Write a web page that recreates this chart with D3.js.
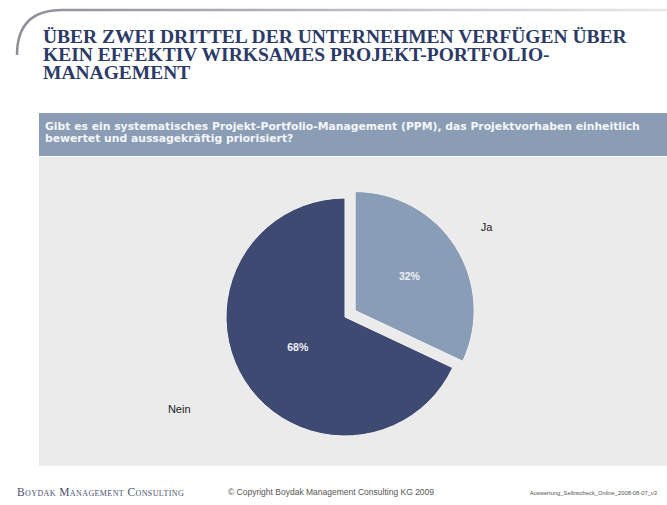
<!DOCTYPE html>
<html><head><meta charset="utf-8">
<script src="https://cdn.jsdelivr.net/npm/d3@7"></script>
<style>html,body{margin:0;padding:0;background:#fff;}svg{display:block;}</style>
</head><body>
<svg id="c" width="667" height="505"></svg>
<script>
const titleLines = ["ÜBER ZWEI DRITTEL DER UNTERNEHMEN VERFÜGEN ÜBER","KEIN EFFEKTIV WIRKSAMES PROJEKT-PORTFOLIO-","MANAGEMENT"];
const questionLines = ["Gibt es ein systematisches Projekt-Portfolio-Management (PPM), das Projektvorhaben einheitlich","bewertet und aussagekräftig priorisiert?"];
const categories = ["Ja","Nein"];
const values = [32, 68];
const colors = ["#8a9db6","#3e4a72"];
const footer = ["Boydak Management Consulting","© Copyright Boydak Management Consulting KG 2009","Auswertung_Selbstcheck_Online_2008-08-07_v3"];

const svg = d3.select("#c");
const defs = svg.append("defs");
const gH = defs.append("linearGradient").attr("id","fh").attr("x1",0).attr("x2",1).attr("y1",0).attr("y2",0);
gH.append("stop").attr("offset","0").attr("stop-color","#8d8f99");
gH.append("stop").attr("offset","1").attr("stop-color","#e8e8ec");
const gV = defs.append("linearGradient").attr("id","fv").attr("x1",0).attr("x2",0).attr("y1",0).attr("y2",1);
gV.append("stop").attr("offset","0").attr("stop-color","#8d8f99");
gV.append("stop").attr("offset","1").attr("stop-color","#f2f2f4");

// frame
svg.append("path").attr("d","M667,10 L62,10 Q17,10 17,55")
  .attr("fill","none").attr("stroke","url(#fh)").attr("stroke-width",2.5);
svg.append("path").attr("d","M17,55 L17,470")
  .attr("fill","none").attr("stroke","url(#fv)").attr("stroke-width",2.5);

// title
svg.append("g").selectAll("text").data(titleLines).join("text")
  .attr("x",43).attr("y",(d,i)=>43+i*18)
  .attr("font-family","Liberation Serif, Times New Roman, serif")
  .attr("font-weight","bold").attr("font-size",19.5)
  .attr("fill","#2c3a66").text(d=>d);

// panel
svg.append("rect").attr("x",39).attr("y",157).attr("width",628).attr("height",309).attr("fill","#ebebeb");
svg.append("rect").attr("x",39).attr("y",113).attr("width",628).attr("height",43).attr("fill","#8a9db5");
svg.append("g").selectAll("text").data(questionLines).join("text")
  .attr("x",45).attr("y",(d,i)=>130+i*12)
  .attr("font-family","DejaVu Sans, Verdana, sans-serif")
  .attr("font-weight","bold").attr("font-size",10.8)
  .attr("fill","#f4f6fa").text(d=>d);

// pie
const cx = 345, cy = 317, r = 119, explode = 12;
const labelPos = {Ja:{inner:0.54, outer:1.41, dx:0, dy:0}, Nein:{inner:0.47, outer:1.6, dx:-5, dy:-10}};
const pie = d3.pie().sort(null).value(d=>d.v);
const arcs = pie(categories.map((c,i)=>({c, v:values[i], col:colors[i]})));
const arc = d3.arc().innerRadius(0).outerRadius(r);
const g = svg.append("g").attr("transform",`translate(${cx},${cy})`);
const off = d => {
  if (d.data.c !== "Ja") return [0,0];
  const a = (d.startAngle+d.endAngle)/2;
  return [Math.sin(a)*explode, -Math.cos(a)*explode];
};
const at = (d,k) => {
  const a = (d.startAngle+d.endAngle)/2, o = off(d);
  return [Math.sin(a)*r*k + o[0], -Math.cos(a)*r*k + o[1]];
};
g.selectAll("path").data(arcs).join("path")
  .attr("d",arc).attr("fill",d=>d.data.col)
  .attr("stroke","#f4f4f6").attr("stroke-width",1)
  .attr("transform",d=>`translate(${off(d)})`);
g.selectAll("text.p").data(arcs).join("text").attr("class","p")
  .attr("transform",d=>`translate(${at(d,labelPos[d.data.c].inner)})`)
  .attr("text-anchor","middle").attr("dy","0.35em")
  .attr("font-family","Liberation Sans, Arial, sans-serif").attr("font-weight","bold")
  .attr("font-size",10.5).attr("fill","#eef0f5")
  .text(d=>d.data.v+"%");
g.selectAll("text.c").data(arcs).join("text").attr("class","c")
  .attr("transform",d=>{const a=(d.startAngle+d.endAngle)/2,p=labelPos[d.data.c],k=p.outer;return `translate(${Math.sin(a)*r*k+p.dx},${-Math.cos(a)*r*k+p.dy})`;})
  .attr("text-anchor","middle").attr("dy","0.35em")
  .attr("font-family","Liberation Sans, Arial, sans-serif")
  .attr("font-size",11).attr("fill","#222")
  .text(d=>d.data.c);

// footer
svg.append("text").attr("x",17).attr("y",496)
  .attr("font-family","Liberation Serif, Times New Roman, serif")
  .attr("font-size",11.5).attr("fill","#4a5070").attr("font-variant","small-caps")
  .attr("letter-spacing",0.4).text(footer[0]);
svg.append("text").attr("x",331).attr("y",495).attr("text-anchor","middle")
  .attr("font-family","Liberation Sans, Arial, sans-serif")
  .attr("font-size",8.5).attr("fill","#555").text(footer[1]);
svg.append("text").attr("x",657).attr("y",495).attr("text-anchor","end")
  .attr("font-family","Liberation Sans, Arial, sans-serif")
  .attr("font-size",5.8).attr("fill","#555").text(footer[2]);
</script>
</body></html>
